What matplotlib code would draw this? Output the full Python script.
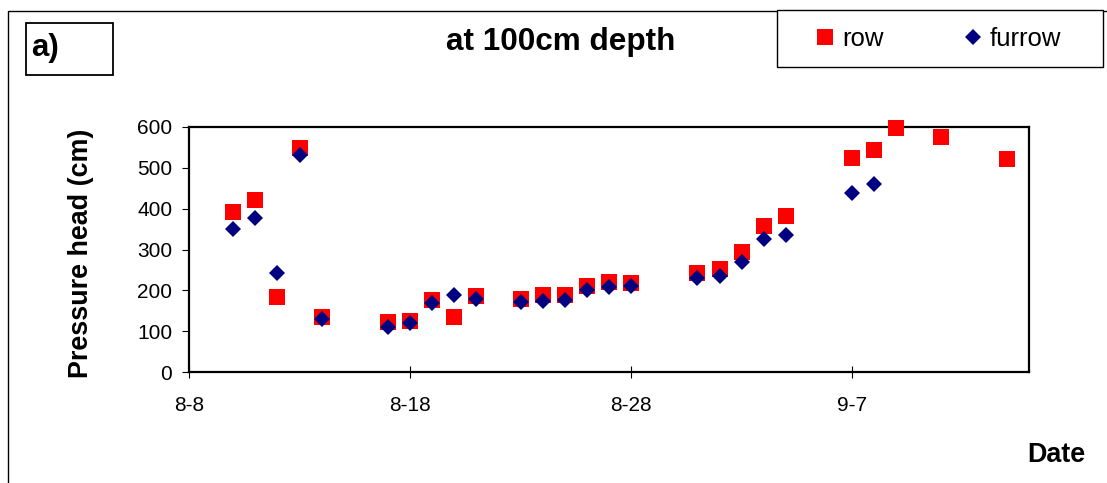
import matplotlib
matplotlib.use("Agg")
import numpy as np
import pandas as pd
import matplotlib.pyplot as plt
from matplotlib.patches import Rectangle

# data (month-day)
dates = ["8-10", "8-11", "8-12", "8-13", "8-14", "8-17", "8-18", "8-19", "8-20",
         "8-21", "8-23", "8-24", "8-25", "8-26", "8-27", "8-28", "8-31", "9-1",
         "9-2", "9-3", "9-4", "9-7", "9-8", "9-9", "9-11", "9-14"]
row = [391, 420, 184, 549, 135, 122, 125, 177, 135, 186, 180, 189, 189, 211,
       220, 218, 242, 252, 293, 357, 382, 525, 544, 597, 576, 521]
furrow = [349, 377, 242, 531, 129, 111, 120, 168, 189, 178, 171, 175, 177, 202,
          208, 210, 229, 236, 270, 325, 336, 438, 461, np.nan, np.nan, np.nan]
tick_dates = ["8-8", "8-18", "8-28", "9-7"]
x_range = ["8-8", "9-15"]
yticks = [0, 100, 200, 300, 400, 500, 600]

plt.rcParams["font.family"] = ["Liberation Sans", "DejaVu Sans"]

W, H = 1107, 483
fig = plt.figure(figsize=(W / 100, H / 100), dpi=100)
ax = fig.add_axes([189 / W, 1 - 372 / H, 840 / W, 245 / H])

x = pd.to_datetime(dates, format="%m-%d")
ax.plot(x, row, ls="none", marker="s", ms=11.3, mew=0, color="#FF0000", label="row",
        zorder=3, clip_on=False)
ax.plot(x, furrow, ls="none", marker="D", ms=8.6, mew=0, color="#000080", label="furrow",
        zorder=4, clip_on=False)

lims = pd.to_datetime(x_range, format="%m-%d")
ax.set_xlim(lims[0], lims[1])
ax.set_ylim(0, 600)
ax.set_yticks(yticks)
ax.set_xticks(pd.to_datetime(tick_dates, format="%m-%d"))
ax.set_xticklabels(tick_dates)

for s in ax.spines.values():
    s.set_linewidth(1.6)
    s.set_color("black")
    s.set_zorder(2)
ax.tick_params(axis="y", direction="out", length=5, width=0.8, pad=7, labelsize=15)
ax.tick_params(axis="x", direction="inout", length=9, width=0.8, pad=13, labelsize=15)

def fx(px):
    return px / W

def fy(py):
    return 1 - py / H

# outer frame (runs off the right and bottom edges)
fig.patches.append(Rectangle((fx(8), -0.1), 1.2, fy(10.5) + 0.1, transform=fig.transFigure,
                             fill=False, lw=1.0, ec="black"))
# "a)" box
fig.patches.append(Rectangle((fx(26), fy(75)), fx(113) - fx(26), fy(23) - fy(75),
                             transform=fig.transFigure, fill=False, lw=1.3, ec="black"))
fig.text(fx(31), fy(48), "a)", fontsize=22.5, fontweight="bold", ha="left", va="center")

# title
fig.text(fx(561), fy(50), "at 100cm depth", fontsize=22.7, fontweight="bold",
         ha="center", va="baseline")

# legend box
fig.patches.append(Rectangle((fx(777), fy(67)), fx(1103) - fx(777), fy(10) - fy(67),
                             transform=fig.transFigure, fill="white", fc="white",
                             lw=1.0, ec="black", zorder=2))
leg = fig.legend(loc="center", bbox_to_anchor=(fx(937), fy(39)), ncol=2, frameon=False,
                 fontsize=18.5, handlelength=1.0, handletextpad=0.15, columnspacing=3.0,
                 borderpad=0, numpoints=1)
leg.set_zorder(5)

# axis labels
fig.text(fx(81), fy(253), "Pressure head (cm)", fontsize=19.4, fontweight="bold",
         rotation=90, ha="center", va="center")
fig.text(fx(1085), fy(462), "Date", fontsize=19.4, fontweight="bold", ha="right", va="baseline")

fig.savefig("out.png", dpi=100)
